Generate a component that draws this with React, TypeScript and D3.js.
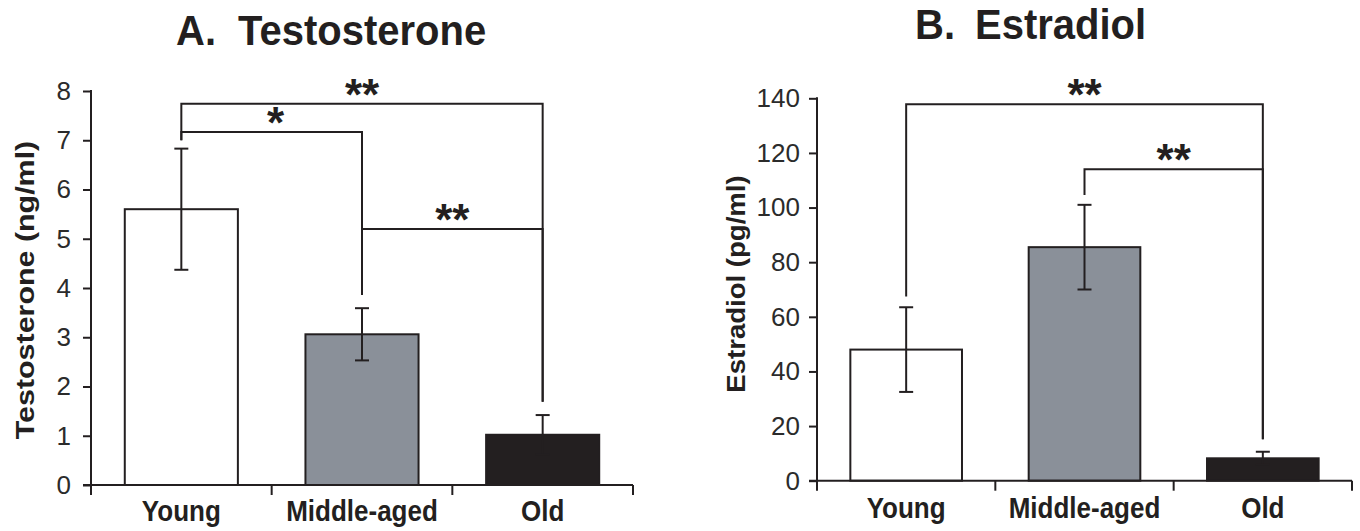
import React, { useEffect, useRef } from "react";
import * as d3 from "d3";

const categories = ["Young", "Middle-aged", "Old"];
const barFills = ["#ffffff", "#8a9099", "#231f20"];

const testosteroneMeans = [5.6, 3.06, 1.02];
const testosteroneErrors = [1.23, 0.53, 0.4];
const testosteroneTicks = [0, 1, 2, 3, 4, 5, 6, 7, 8];

const estradiolMeans = [48, 85.5, 8.2];
const estradiolErrors = [15.5, 15.5, 2.4];
const estradiolTicks = [0, 20, 40, 60, 80, 100, 120, 140];

// significance brackets: groups compared, bracket level, where each leg stops
const testosteroneBrackets = [
  { from: 0, to: 2, level: 7.74, fromEnd: 7.0, toEnd: 1.69, label: "**" },
  { from: 0, to: 1, level: 7.17, fromEnd: 7.0, toEnd: 3.86, label: "*" },
  { from: 1, to: 2, level: 5.2, fromEnd: 3.86, toEnd: 1.69, label: "**" },
];
const estradiolBrackets = [
  { from: 0, to: 2, level: 137.8, fromEnd: 67.4, toEnd: 15.2, label: "**" },
  { from: 1, to: 2, level: 114, fromEnd: 104.6, toEnd: 15.2, label: "**" },
];

const ink = "#231f20";
const font = "'Liberation Sans', Arial, Helvetica, sans-serif";

function drawPanel(svg, o) {
  const g = svg.append("g");

  const x = d3
    .scaleBand()
    .domain(categories)
    .range([o.left, o.right])
    .paddingInner(0.374)
    .paddingOuter(0.187);

  const y = d3.scaleLinear().domain([0, o.max]).range([o.bottom, o.top]);

  // panel title
  o.title.forEach((t) => {
    g.append("text")
      .attr("transform", `translate(${t.x},${o.titleY}) scale(1,1.08)`)
      .style("font-family", font)
      .style("font-weight", "bold")
      .style("font-size", "40px")
      .attr("fill", ink)
      .text(t.text);
  });

  // bars
  g.selectAll(".bar")
    .data(o.means)
    .enter()
    .append("rect")
    .attr("class", "bar")
    .attr("x", (d, i) => x(categories[i]))
    .attr("y", (d) => y(d))
    .attr("width", x.bandwidth())
    .attr("height", (d) => y(0) - y(d))
    .attr("fill", (d, i) => barFills[i])
    .attr("stroke", ink)
    .attr("stroke-width", 2);

  // error bars
  const cx = (i) => x(categories[i]) + x.bandwidth() / 2;
  o.means.forEach((m, i) => {
    const e = o.errors[i];
    g.append("line")
      .attr("x1", cx(i)).attr("x2", cx(i))
      .attr("y1", y(m - e)).attr("y2", y(m + e))
      .attr("stroke", ink).attr("stroke-width", 2);
    [m - e, m + e].forEach((v) => {
      g.append("line")
        .attr("x1", cx(i) - 7).attr("x2", cx(i) + 7)
        .attr("y1", y(v)).attr("y2", y(v))
        .attr("stroke", ink).attr("stroke-width", 2);
    });
  });

  // brackets
  o.brackets.forEach((b) => {
    const path = d3.path();
    path.moveTo(cx(b.from), y(b.fromEnd));
    path.lineTo(cx(b.from), y(b.level));
    path.lineTo(cx(b.to), y(b.level));
    path.lineTo(cx(b.to), y(b.toEnd));
    g.append("path")
      .attr("d", path.toString())
      .attr("fill", "none")
      .attr("stroke", ink)
      .attr("stroke-width", 2);
    g.append("text")
      .attr("x", (cx(b.from) + cx(b.to)) / 2 + (b.label.length === 1 ? 4 : 0))
      .attr("y", y(b.level) + 6)
      .attr("text-anchor", "middle")
      .style("font-family", font)
      .style("font-weight", "bold")
      .style("font-size", "44px")
      .attr("fill", ink)
      .text(b.label);
  });

  // y axis
  const yAxis = d3
    .axisLeft(y)
    .tickValues(o.ticks)
    .tickSize(8)
    .tickPadding(o.tickPad)
    .tickSizeOuter(0);
  const ya = g.append("g").attr("transform", `translate(${o.left},0)`).call(yAxis);
  ya.select(".domain").remove();
  ya.selectAll("line").attr("stroke", ink).attr("stroke-width", 2);
  ya.selectAll("text")
    .style("font-family", font)
    .style("font-size", "26px")
    .attr("fill", "#2b2b2b");

  g.append("line")
    .attr("x1", o.left).attr("x2", o.left)
    .attr("y1", y(o.max) - 1).attr("y2", y(0) + 10)
    .attr("stroke", ink).attr("stroke-width", 2);

  // x axis with ticks between the groups
  g.append("line")
    .attr("x1", o.left - 8).attr("x2", o.right)
    .attr("y1", y(0)).attr("y2", y(0))
    .attr("stroke", ink).attr("stroke-width", 2);
  const bounds = categories.map((c) => x(c) - (x.step() * x.paddingInner()) / 2);
  bounds.push(o.right);
  bounds.slice(1).forEach((bx) => {
    g.append("line")
      .attr("x1", bx).attr("x2", bx)
      .attr("y1", y(0)).attr("y2", y(0) + 10)
      .attr("stroke", ink).attr("stroke-width", 2);
  });

  categories.forEach((c, i) => {
    g.append("text")
      .attr("transform", `translate(${cx(i)},${o.labelY}) scale(1,1.1)`)
      .attr("text-anchor", "middle")
      .style("font-family", font)
      .style("font-weight", "bold")
      .style("font-size", "26px")
      .attr("fill", ink)
      .text(c);
  });

  // y axis title
  g.append("text")
    .attr(
      "transform",
      `translate(${o.axisTitleX},${o.axisTitleY}) scale(1,${o.axisTitleStretch}) rotate(-90)`
    )
    .attr("text-anchor", "middle")
    .style("font-family", font)
    .style("font-weight", "bold")
    .style("font-size", "26px")
    .attr("fill", ink)
    .text(o.axisTitle);
}

export default function App() {
  const svgRef = useRef(null);

  useEffect(() => {
    const svg = d3.select(svgRef.current);
    svg.selectAll("*").remove();

    drawPanel(svg, {
      means: testosteroneMeans,
      errors: testosteroneErrors,
      ticks: testosteroneTicks,
      brackets: testosteroneBrackets,
      max: 8,
      left: 91,
      right: 633,
      top: 91,
      bottom: 485,
      tickPad: 12,
      labelY: 521,
      title: [
        { text: "A.", x: 176 },
        { text: "Testosterone", x: 238 },
      ],
      titleY: 45,
      axisTitle: "Testosterone (ng/ml)",
      axisTitleX: 34,
      axisTitleY: 290,
      axisTitleStretch: 1.17,
    });

    drawPanel(svg, {
      means: estradiolMeans,
      errors: estradiolErrors,
      ticks: estradiolTicks,
      brackets: estradiolBrackets,
      max: 140,
      left: 817,
      right: 1352,
      top: 98.3,
      bottom: 480.7,
      tickPad: 9,
      labelY: 518,
      title: [
        { text: "B.", x: 915 },
        { text: "Estradiol", x: 975 },
      ],
      titleY: 39,
      axisTitle: "Estradiol (pg/ml)",
      axisTitleX: 745,
      axisTitleY: 284,
      axisTitleStretch: 1.06,
    });
  }, []);

  return (
    <svg
      ref={svgRef}
      width={1360}
      height={531}
      style={{ position: "absolute", left: 0, top: 0, background: "#ffffff" }}
    />
  );
}
